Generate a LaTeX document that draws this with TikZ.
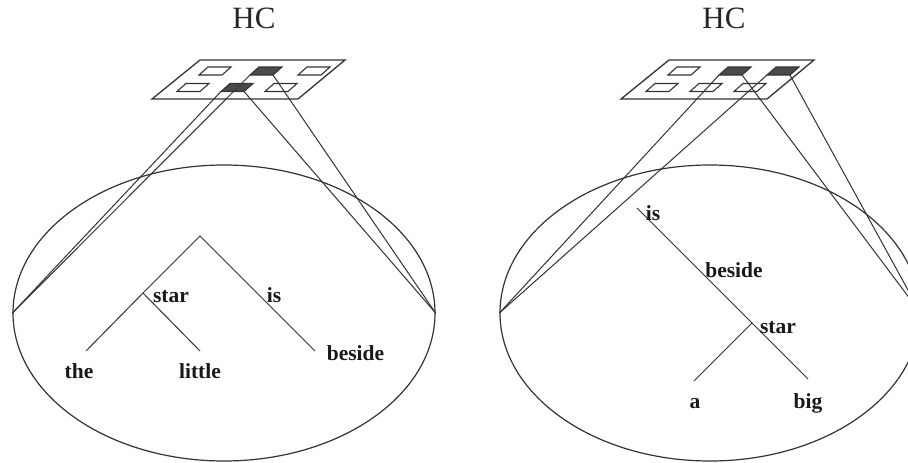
\documentclass[tikz,border=0pt]{standalone}
\usepackage{fontspec}
\setmainfont{Liberation Serif}
\usetikzlibrary{shapes.geometric}
\definecolor{ink}{HTML}{333333}
\definecolor{cellfill}{HTML}{4A4A4A}
\tikzset{
  thinline/.style={draw=ink, line width=1pt},
  ellline/.style={draw=ink, line width=1.2pt, ellipse, inner sep=0pt},
  plateline/.style={draw=ink, line width=1.3pt, line join=miter},
  celline/.style={draw=ink, line width=1.1pt, line join=miter},
  word/.style={font=\bfseries\fontsize{21.5}{21.5}\selectfont, text=black!90, inner sep=0pt, anchor=base},
  title/.style={font=\fontsize{31}{31}\selectfont, text=black!85, inner sep=0pt, anchor=base}
}
\newcommand\unitcell[4]{%
  \draw[celline,fill=#4] (#2-16,#3+4) coordinate (#1ll) -- (#2+7,#3+4) coordinate (#1lr)
     -- (#2+16,#3-4) -- (#2-7,#3-4) -- cycle;}
\newcommand\plate[3]{%
  \draw[plateline,fill=white] (#2+152,99) coordinate (#1bl) -- (#2+298,99) coordinate (#1br)
     -- (#2+345,60) coordinate (#1tr) -- (#2+200,60) coordinate (#1tl) -- cycle;}
\begin{document}
\begin{tikzpicture}[x=1pt,y=-1pt]
\clip (0,0) rectangle (908,463);
\fill[white] (0,0) rectangle (908,463);

% titles
\node[title] (hc1) at (254,28) {HC};
\node[title] (hc2) at (724,28) {HC};

% ellipses
\node[ellline, minimum width=422pt, minimum height=296pt] (E1) at (224,313) {};
\node[ellline, minimum width=420pt, minimum height=296pt] (E2) at (710,313) {};

% left plate
\plate{P1}{0}{}
\unitcell{a1}{215}{71}{white}
\unitcell{a2}{266}{71}{cellfill}
\unitcell{a3}{314}{71}{white}
\unitcell{a4}{193}{87.5}{white}
\unitcell{a5}{237}{87.5}{cellfill}
\unitcell{a6}{281}{87.5}{white}

% right plate
\plate{P2}{469}{}
\unitcell{b1}{684}{71}{white}
\unitcell{b2}{735}{71}{cellfill}
\unitcell{b3}{783}{71}{cellfill}
\unitcell{b4}{662}{87.5}{white}
\unitcell{b5}{706}{87.5}{white}
\unitcell{b6}{750}{87.5}{white}

% projection lines
\draw[thinline] (a2ll) -- (E1.west);
\draw[thinline] (a5ll) -- (E1.west);
\draw[thinline] (a2lr) -- (E1.east);
\draw[thinline] (a5lr) -- (E1.east);
\draw[thinline] (b2ll) -- (E2.west);
\draw[thinline] (b3ll) -- (E2.west);
\draw[thinline] (b2lr) -- (E2.east);
\draw[thinline] (b3lr) -- (E2.east);

% left tree
\coordinate (t1top) at (200,236);
\coordinate (t1star) at (143,293);
\coordinate (t1the) at (86,351);
\coordinate (t1lit) at (200,351);
\coordinate (t1bes) at (315,351);
\draw[thinline] (t1the) -- (t1star) -- (t1top) -- (t1bes);
\draw[thinline] (t1star) -- (t1lit);
\node[word] (w1star) at (171,302) {star};
\node[word] (w1is) at (274,302) {is};
\node[word] (w1the) at (79,378) {the};
\node[word] (w1lit) at (200,378) {little};
\node[word] (w1bes) at (355.5,360) {beside};

% right tree
\coordinate (t2top) at (637,208);
\coordinate (t2star) at (752,323);
\coordinate (t2big) at (808,379);
\coordinate (t2a) at (694,381);
\draw[thinline] (t2top) -- (t2star) -- (t2big);
\draw[thinline] (t2star) -- (t2a);
\node[word] (w2is) at (653,220) {is};
\node[word] (w2bes) at (734,277) {beside};
\node[word] (w2star) at (778,333) {star};
\node[word] (w2a) at (695,408) {a};
\node[word] (w2big) at (808,408) {big};
\end{tikzpicture}
\end{document}
